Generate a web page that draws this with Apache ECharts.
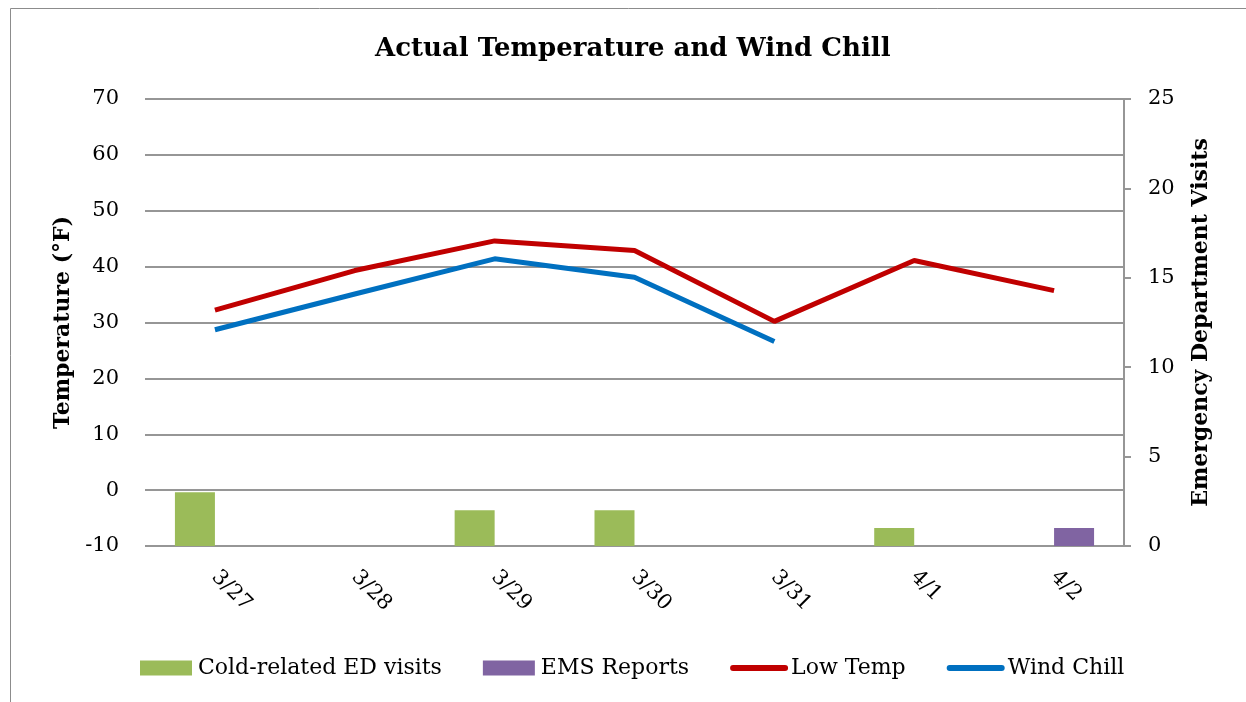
<!DOCTYPE html>
<html>
<head>
<meta charset="utf-8">
<script src="https://cdn.jsdelivr.net/npm/echarts@6/dist/echarts.min.js"></script>
<style>
  html, body { margin: 0; padding: 0; background: #fff; }
  #graphContainer { width: 1246px; height: 702px; }
</style>
</head>
<body>
<div id="graphContainer"></div>
<script>
var days = ['3/27', '3/28', '3/29', '3/30', '3/31', '4/1', '4/2'];
var coldVisits = [3, null, 2, 2, null, 1, null];
var emsReports = [null, null, null, null, null, null, 1];
var lowTemp = [32.2, 39.3, 44.6, 42.9, 30.2, 41.1, 35.7];
var windChill = [28.7, 35.1, 41.4, 38.1, 26.6, null, null];

var fontName = 'DejaVu Serif';
var textColor = '#000';
var gridColor = '#969696';

var dom = document.getElementById('graphContainer');
var myEChart = echarts.init(dom, null, { renderer: 'canvas' });

var option = {
	animation: false,
	textStyle: { fontFamily: fontName },
	graphic: [{
		type: 'rect',
		shape: { x: 10.5, y: 8.5, width: 1260, height: 720 },
		style: { fill: 'none', stroke: '#8c8c8c', lineWidth: 1 },
		silent: true
	}],
	title: {
		text: 'Actual Temperature and Wind Chill',
		left: 370,
		top: 31,
		textStyle: { fontFamily: fontName, fontSize: 26, fontWeight: 'bold', color: textColor }
	},
	grid: {
		left: 145,
		right: 122,
		top: 99,
		bottom: 156
	},
	legend: {
		bottom: 18,
		left: 135,
		itemGap: 41,
		itemWidth: 52,
		itemHeight: 15,
		textStyle: { fontFamily: fontName, fontSize: 22, color: textColor, padding: [0, 0, 0, 1] },
		data: [
			{ name: 'Cold-related ED visits', icon: 'rect' },
			{ name: 'EMS Reports', icon: 'rect' },
			{ name: 'Low Temp', itemStyle: { opacity: 0 }, lineStyle: { width: 6, cap: 'round' } },
			{ name: 'Wind Chill', itemStyle: { opacity: 0 }, lineStyle: { width: 6, cap: 'round' } }
		]
	},
	xAxis: {
		type: 'category',
		data: days,
		axisLine: { show: false },
		axisTick: { show: false },
		axisLabel: {
			rotate: -45,
			margin: 28,
			fontFamily: fontName,
			fontSize: 21,
			color: textColor
		}
	},
	yAxis: [
		{
			type: 'value',
			min: -10,
			max: 70,
			interval: 10,
			name: 'Temperature (°F)',
			nameLocation: 'center',
			nameGap: 71,
			nameTextStyle: { fontFamily: fontName, fontSize: 22, fontWeight: 'bold', color: textColor },
			axisLine: { show: false },
			axisTick: { show: false },
			axisLabel: { fontFamily: fontName, fontSize: 21, color: textColor, margin: 26 },
			splitLine: { lineStyle: { color: gridColor, width: 2 } }
		},
		{
			type: 'value',
			min: 0,
			max: 25,
			interval: 5,
			position: 'right',
			name: 'Emergency Department Visits',
			nameLocation: 'center',
			nameRotate: 90,
			nameGap: 66,
			nameTextStyle: { fontFamily: fontName, fontSize: 22, fontWeight: 'bold', color: textColor },
			axisLine: { show: true, lineStyle: { color: gridColor, width: 2 } },
			axisTick: { show: true, length: 7, lineStyle: { color: gridColor, width: 2 } },
			axisLabel: { fontFamily: fontName, fontSize: 21, color: textColor, margin: 24 },
			splitLine: { show: false }
		}
	],
	series: [
		{
			name: 'Cold-related ED visits',
			type: 'bar',
			yAxisIndex: 1,
			data: coldVisits,
			barWidth: 40,
			barGap: '0%',
			itemStyle: { color: '#9BBB59' }
		},
		{
			name: 'EMS Reports',
			type: 'bar',
			yAxisIndex: 1,
			data: emsReports,
			barWidth: 40,
			barGap: '0%',
			itemStyle: { color: '#8064A2' }
		},
		{
			name: 'Low Temp',
			type: 'line',
			yAxisIndex: 0,
			data: lowTemp,
			symbol: 'none',
			lineStyle: { color: '#C00000', width: 5 },
			itemStyle: { color: '#C00000' }
		},
		{
			name: 'Wind Chill',
			type: 'line',
			yAxisIndex: 0,
			data: windChill,
			symbol: 'none',
			lineStyle: { color: '#0070C0', width: 5 },
			itemStyle: { color: '#0070C0' }
		}
	]
};

myEChart.setOption(option);
window.addEventListener('resize', myEChart.resize);
</script>
</body>
</html>
